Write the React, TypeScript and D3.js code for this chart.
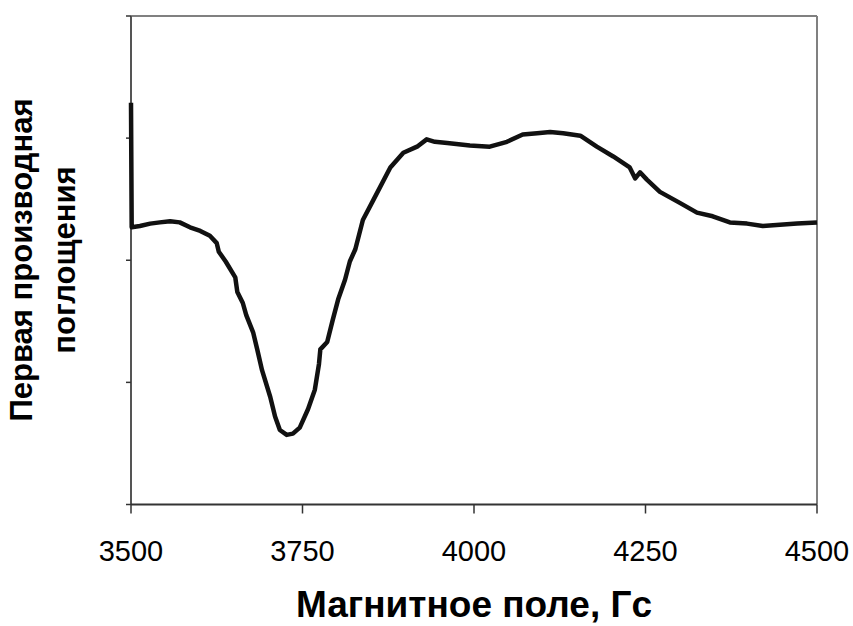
import React from "react";
import * as d3 from "d3";

const fieldG = [3500, 3501, 3513, 3528, 3542, 3557, 3571, 3586, 3601, 3615, 3625, 3628, 3638, 3652, 3655, 3663, 3668, 3678, 3684, 3691, 3703, 3710, 3717, 3727, 3736, 3746, 3758, 3768, 3774, 3776, 3786, 3794, 3802, 3812, 3819, 3827, 3838, 3853, 3878, 3897, 3917, 3931, 3943, 3961, 3994, 4023, 4048, 4071, 4092, 4111, 4130, 4155, 4179, 4203, 4227, 4235, 4242, 4252, 4271, 4300, 4325, 4348, 4373, 4398, 4421, 4446, 4471, 4500];
const signal = [3.29, 2.27, 2.28, 2.30, 2.31, 2.32, 2.31, 2.27, 2.24, 2.20, 2.14, 2.07, 1.99, 1.86, 1.74, 1.65, 1.55, 1.41, 1.27, 1.10, 0.88, 0.72, 0.61, 0.57, 0.58, 0.63, 0.78, 0.94, 1.15, 1.27, 1.33, 1.51, 1.68, 1.84, 1.99, 2.09, 2.33, 2.49, 2.76, 2.88, 2.93, 2.99, 2.97, 2.96, 2.94, 2.93, 2.97, 3.03, 3.04, 3.05, 3.04, 3.02, 2.93, 2.85, 2.76, 2.67, 2.72, 2.66, 2.56, 2.47, 2.39, 2.36, 2.31, 2.30, 2.28, 2.29, 2.30, 2.31];
const xTicks = [3500, 3750, 4000, 4250, 4500];
const yTicks = [0, 1, 2, 3, 4];
const xTitle = "Магнитное поле, Гс";
const yTitle1 = "Первая производная";
const yTitle2 = "поглощения";

export default function App() {
  const W = 853, H = 626;
  const left = 131, right = 817, top = 16, bottom = 504.5;
  const x = d3.scaleLinear().domain([3500, 4500]).range([left, right]);
  const y = d3.scaleLinear().domain([0, 4]).range([bottom, top]);
  const pts = fieldG.map((g, i) => [g, signal[i]] as [number, number]);
  const line = d3.line<[number, number]>().x(d => x(d[0])).y(d => y(d[1]));
  const font = "'Liberation Sans', Arial, sans-serif";
  return (
    <svg width={W} height={H} style={{ position: "absolute", left: 0, top: 0, background: "#fff" }}>
      <rect x={0} y={0} width={W} height={H} fill="#fff" />
      <line x1={left} y1={top} x2={right} y2={top} stroke="#808080" strokeWidth={2} />
      <line x1={right} y1={top} x2={right} y2={bottom} stroke="#808080" strokeWidth={2} />
      <line x1={left} y1={top} x2={left} y2={bottom} stroke="#555" strokeWidth={2} />
      <line x1={left} y1={bottom} x2={right} y2={bottom} stroke="#333" strokeWidth={2} />
      {yTicks.map(t => (
        <line key={"y" + t} x1={left - 5} x2={left} y1={y(t)} y2={y(t)} stroke="#333" strokeWidth={1.5} />
      ))}
      {xTicks.map(t => (
        <g key={"x" + t}>
          <line x1={x(t)} x2={x(t)} y1={bottom} y2={bottom + 9} stroke="#333" strokeWidth={1.5} />
          <text x={x(t)} y={561} textAnchor="middle" fontFamily={font} fontSize={29} fill="#000">{t}</text>
        </g>
      ))}
      <path d={line(pts) || ""} fill="none" stroke="#111" strokeWidth={4.5} strokeLinejoin="round" />
      <text x={(left + right) / 2} y={617} textAnchor="middle" fontFamily={font} fontSize={37} fontWeight="bold" fill="#000">{xTitle}</text>
      <g transform="translate(0,260) rotate(-90)">
        <text x={0} y={32} textAnchor="middle" fontFamily={font} fontSize={31} fontWeight="bold" fill="#000">{yTitle1}</text>
        <text x={0} y={75} textAnchor="middle" fontFamily={font} fontSize={31} fontWeight="bold" fill="#000">{yTitle2}</text>
      </g>
    </svg>
  );
}
